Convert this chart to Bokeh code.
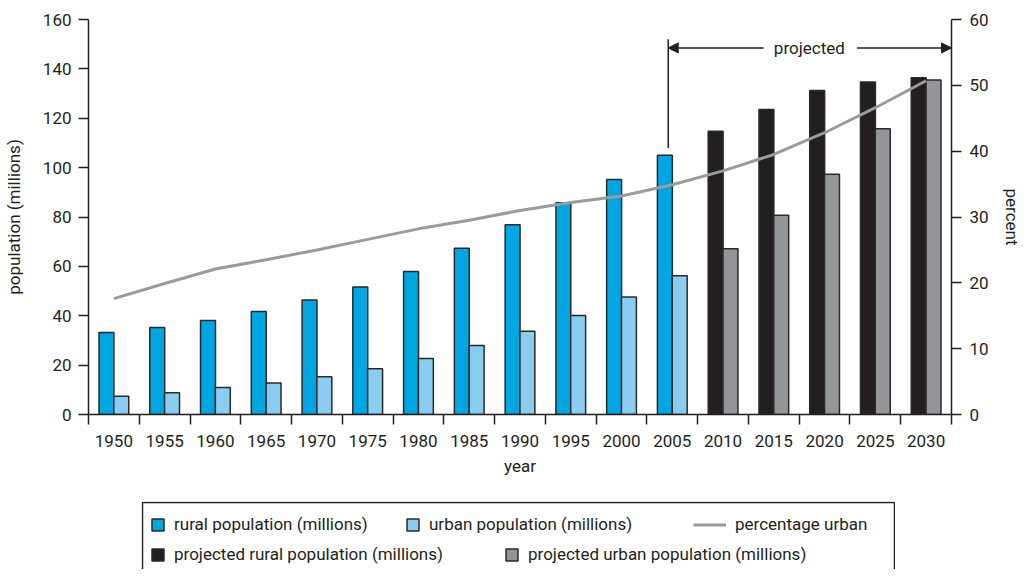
from bokeh.plotting import figure
from bokeh.models import (ColumnDataSource, Range1d, LinearAxis, FixedTicker, Arrow,
                          NormalHead, Legend, LegendItem, Spacer)
from bokeh.transform import dodge
from bokeh.layouts import column, row
from bokeh.embed import file_html
from bokeh.resources import INLINE
from bokeh.core.properties import value

# ---------------- data ----------------
years = [1950, 1955, 1960, 1965, 1970, 1975, 1980, 1985, 1990, 1995, 2000, 2005,
         2010, 2015, 2020, 2025, 2030]
hist_years = [1950, 1955, 1960, 1965, 1970, 1975, 1980, 1985, 1990, 1995, 2000, 2005]
rural_pop = [33.2, 35.2, 38.1, 41.7, 46.4, 51.6, 57.9, 67.3, 76.9, 85.8, 95.2, 105.0]
urban_pop = [7.4, 8.8, 10.9, 12.8, 15.3, 18.5, 22.7, 28.0, 33.7, 40.1, 47.6, 56.2]
proj_years = [2010, 2015, 2020, 2025, 2030]
proj_rural_pop = [114.7, 123.5, 131.2, 134.7, 136.4]
proj_urban_pop = [67.1, 80.7, 97.3, 115.7, 135.5]
pct_urban = [17.6, 19.9, 22.1, 23.5, 25.0, 26.6, 28.2, 29.5, 31.0, 32.2, 33.2, 34.9,
             37.0, 39.5, 42.8, 46.6, 50.7]
left_ticks = [0, 20, 40, 60, 80, 100, 120, 140, 160]
right_ticks = [0, 10, 20, 30, 40, 50, 60]

# ---------------- style ----------------
FONT = "Roboto"
INK = "#231f20"
C_RURAL = "#00a6e2"
C_URBAN = "#8acdf0"
C_PRURAL = "#231f20"
C_PURBAN = "#939598"
C_LINE = "#999b9e"
OUTLINE = "#2a2a2a"
FS = "17px"
BAR_W = 1.47
OFF = 0.73

hist = ColumnDataSource(dict(year=hist_years, rural=rural_pop, urban=urban_pop))
proj = ColumnDataSource(dict(year=proj_years, rural=proj_rural_pop, urban=proj_urban_pop))
line_src = ColumnDataSource(dict(year=years, pct=pct_urban))

p = figure(width=1025, height=492, output_backend="svg", toolbar_location=None,
           x_range=Range1d(years[0] - 2.5, years[-1] + 2.5),
           y_range=Range1d(left_ticks[0], left_ticks[-1]),
           min_border_left=84, min_border_right=74, min_border_top=19,
           min_border_bottom=78)
p.extra_y_ranges = {"pct": Range1d(right_ticks[0], right_ticks[-1])}
p.outline_line_color = None
p.grid.visible = False
p.background_fill_color = "white"
p.border_fill_color = "white"

bar_kw = dict(width=BAR_W, line_color=OUTLINE, line_width=1.5)
p.vbar(x=dodge("year", -OFF), top="rural", bottom=0, source=hist, fill_color=C_RURAL, **bar_kw)
p.vbar(x=dodge("year", OFF), top="urban", bottom=0, source=hist, fill_color=C_URBAN, **bar_kw)
p.vbar(x=dodge("year", -OFF), top="rural", bottom=0, source=proj, fill_color=C_PRURAL, **bar_kw)
p.vbar(x=dodge("year", OFF), top="urban", bottom=0, source=proj, fill_color=C_PURBAN, **bar_kw)
p.line(x="year", y="pct", source=line_src, y_range_name="pct", line_color=C_LINE,
       line_width=3)

# ---- axes ----
xa = p.xaxis[0]
xa.ticker = FixedTicker(ticks=years, minor_ticks=[y - 2.5 for y in years] + [years[-1] + 2.5])
xa.axis_label = "year"
xa.major_tick_out = 0
xa.major_tick_in = 0
xa.minor_tick_out = 10
xa.minor_tick_in = 0
xa.major_label_standoff = 10
xa.axis_label_standoff = 6

ya = p.yaxis[0]
ya.ticker = FixedTicker(ticks=left_ticks)
ya.axis_label = "population (millions)"
ya.major_tick_out = 10
ya.major_tick_in = 0
ya.minor_tick_out = 0
ya.minor_tick_in = 0
ya.major_label_standoff = 7
ya.axis_label_standoff = 16

ra = LinearAxis(y_range_name="pct", ticker=FixedTicker(ticks=right_ticks), axis_label="percent")
ra.major_tick_out = 10
ra.major_tick_in = 0
ra.minor_tick_out = 0
ra.minor_tick_in = 0
ra.major_label_standoff = 8
ra.axis_label_standoff = 10
p.add_layout(ra, "right")

for ax in (xa, ya, ra):
    ax.axis_line_color = INK
    ax.axis_line_width = 1.5
    ax.major_tick_line_color = INK
    ax.major_tick_line_width = 1.5
    ax.minor_tick_line_color = INK
    ax.minor_tick_line_width = 1.5
    ax.major_label_text_font = FONT
    ax.major_label_text_font_size = FS
    ax.major_label_text_color = INK
    ax.axis_label_text_font = FONT
    ax.axis_label_text_font_size = FS
    ax.axis_label_text_font_style = "normal"
    ax.axis_label_text_color = INK

# ---- "projected" annotation ----
PX = 2004.6          # divider position
PY = 148.5           # arrow height
TXT_X = 2018.5
p.segment(x0=[PX], y0=[108], x1=[PX], y1=[152], line_color=INK, line_width=1.5)
p.add_layout(Arrow(end=NormalHead(size=10, fill_color=INK, line_color=INK),
                   x_start=2014.0, y_start=PY, x_end=PX, y_end=PY,
                   line_color=INK, line_width=1.5))
p.add_layout(Arrow(end=NormalHead(size=10, fill_color=INK, line_color=INK),
                   x_start=2023.2, y_start=PY, x_end=years[-1] + 2.5, y_end=PY,
                   line_color=INK, line_width=1.5))
p.text(x=[TXT_X], y=[PY], text=["projected"], text_align="center", text_baseline="middle",
       text_font=value(FONT), text_font_size=FS, text_color=INK)

# ---------------- legend panel ----------------
LW, LH = 754, 68
lg = figure(width=LW, height=LH, output_backend="svg", toolbar_location=None,
            x_range=Range1d(0, LW), y_range=Range1d(0, LH),
            min_border=0, x_axis_location=None, y_axis_location=None)
lg.grid.visible = False
lg.outline_line_color = None
lg.line(x=[1, 1, LW - 1, LW - 1], y=[0, LH - 1, LH - 1, 0], line_color=INK, line_width=1.5)

# swatch-only renderers (placed outside the visible range)
off = ColumnDataSource(dict(x=[-500], y=[-500]))
r1 = lg.vbar(x="x", top="y", width=1, source=off, fill_color=C_RURAL, line_color=OUTLINE, line_width=1.5)
r2 = lg.vbar(x="x", top="y", width=1, source=off, fill_color=C_URBAN, line_color=OUTLINE, line_width=1.5)
r3 = lg.line(x="x", y="y", source=off, line_color=C_LINE, line_width=3)
r4 = lg.vbar(x="x", top="y", width=1, source=off, fill_color=C_PRURAL, line_color=OUTLINE, line_width=1.5)
r5 = lg.vbar(x="x", top="y", width=1, source=off, fill_color=C_PURBAN, line_color=OUTLINE, line_width=1.5)

entries = [
    (r1, "rural population (millions)", 9, 35, 15),
    (r2, "urban population (millions)", 264, 35, 15),
    (r3, "percentage urban", 552, 35, 33),
    (r4, "projected rural population (millions)", 9, 5, 15),
    (r5, "projected urban population (millions)", 363, 5, 15),
]
for r, lab, lx, ly, gw in entries:
    leg = Legend(items=[LegendItem(label=lab, renderers=[r])], location=(lx, ly),
                 orientation="horizontal", glyph_width=gw, glyph_height=15,
                 label_standoff=9, label_height=20, padding=0, margin=0, spacing=0,
                 border_line_color=None, background_fill_alpha=0,
                 label_text_font=FONT, label_text_font_size=FS, label_text_color=INK)
    lg.add_layout(leg, "center")

layout = column(p, Spacer(height=9), row(Spacer(width=141), lg))
open("out.html", "w").write(file_html(layout, INLINE))
